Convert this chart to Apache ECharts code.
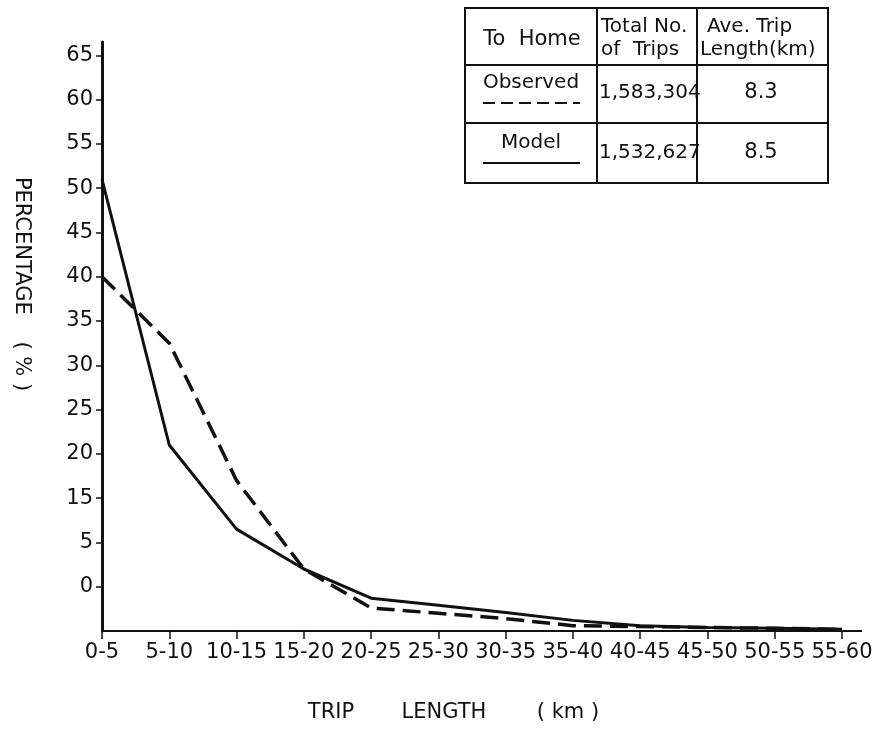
<!DOCTYPE html>
<html>
<head>
<meta charset="utf-8">
<title>Trip length distribution - To Home</title>
<script src="https://cdn.jsdelivr.net/npm/echarts@6/dist/echarts.min.js"></script>
<style>
  html, body { margin: 0; padding: 0; background: #fff; }
  #chart { width: 877px; height: 729px; }
</style>
</head>
<body>
<div id="chart"></div>
<script>
// trip length classes (km)
var categories = ['0-5', '5-10', '10-15', '15-20', '20-25', '25-30', '30-35', '35-40', '40-45', '45-50', '50-55', '55-60'];
// percentage of trips
var observed = [40, 32.5, 17, 7, 2.6, 2.0, 1.4, 0.6, 0.5, 0.4, 0.3, 0.2];
var model = [51, 21, 11.5, 7, 3.7, 2.9, 2.1, 1.2, 0.6, 0.4, 0.3, 0.2];
// y ticks as printed on the original (10 is missing, lower two read 5 and 0)
var yTickValues = [5, 10, 15, 20, 25, 30, 35, 40, 45, 50, 55, 60, 65];
var yTickLabels = ['0', '5', '15', '20', '25', '30', '35', '40', '45', '50', '55', '60', '65'];
// summary table
var tableNames = ['Observed', 'Model'];
var tableTrips = ['1,583,304', '1,532,627'];
var tableAvg = ['8.3', '8.5'];

var font = 'DejaVu Sans';
var ink = '#111';

var chart = echarts.init(document.getElementById('chart'));

// table drawn with graphic elements
var tx = 465, ty = 8, tw = 363, th = 175;
var colX = [597, 697];
var rowY = [65, 123];
var graphics = [
  { type: 'rect', shape: { x: tx, y: ty, width: tw, height: th }, style: { fill: '#fff', stroke: ink, lineWidth: 2 } },
  { type: 'line', shape: { x1: colX[0], y1: ty, x2: colX[0], y2: ty + th }, style: { stroke: ink, lineWidth: 2 } },
  { type: 'line', shape: { x1: colX[1], y1: ty, x2: colX[1], y2: ty + th }, style: { stroke: ink, lineWidth: 2 } },
  { type: 'line', shape: { x1: tx, y1: rowY[0], x2: tx + tw, y2: rowY[0] }, style: { stroke: ink, lineWidth: 2 } },
  { type: 'line', shape: { x1: tx, y1: rowY[1], x2: tx + tw, y2: rowY[1] }, style: { stroke: ink, lineWidth: 2 } },
  { type: 'text', x: 532, y: 40, style: { text: 'To  Home', font: '21px ' + font, fill: ink, align: 'center', verticalAlign: 'middle' } },
  { type: 'text', x: 601, y: 27, style: { text: 'Total No.', font: '20px ' + font, fill: ink, verticalAlign: 'middle' } },
  { type: 'text', x: 601, y: 50, style: { text: 'of  Trips', font: '20px ' + font, fill: ink, verticalAlign: 'middle' } },
  { type: 'text', x: 707, y: 27, style: { text: 'Ave. Trip', font: '20px ' + font, fill: ink, verticalAlign: 'middle' } },
  { type: 'text', x: 700, y: 50, style: { text: 'Length(km)', font: '20px ' + font, fill: ink, verticalAlign: 'middle' } },
  // axis names
  { type: 'text', x: 21, y: 284, rotation: -Math.PI / 2, style: { text: 'PERCENTAGE    ( % )', font: '21px ' + font, fill: ink, align: 'center', verticalAlign: 'middle' } },
  { type: 'text', x: 331, y: 713, style: { text: 'TRIP', font: '21px ' + font, fill: ink, align: 'center', verticalAlign: 'middle' } },
  { type: 'text', x: 444, y: 713, style: { text: 'LENGTH', font: '21px ' + font, fill: ink, align: 'center', verticalAlign: 'middle' } },
  { type: 'text', x: 568, y: 713, style: { text: '( km )', font: '21px ' + font, fill: ink, align: 'center', verticalAlign: 'middle' } },
  // x axis runs a little past the last class
  { type: 'line', shape: { x1: 840, y1: 631, x2: 862, y2: 631 }, style: { stroke: ink, lineWidth: 2 } }
];
var rowTextY = [88, 148];
var keyY = [103, 163];
for (var i = 0; i < tableNames.length; i++) {
  graphics.push({ type: 'text', x: 531, y: rowTextY[i] - 5, style: { text: tableNames[i], font: '20px ' + font, fill: ink, align: 'center', verticalAlign: 'middle' } });
  graphics.push({ type: 'text', x: 599, y: rowTextY[i] + 5, style: { text: tableTrips[i], font: '20px ' + font, fill: ink, verticalAlign: 'middle' } });
  graphics.push({ type: 'text', x: 761, y: rowTextY[i] + 5, style: { text: tableAvg[i], font: '21px ' + font, fill: ink, align: 'center', verticalAlign: 'middle' } });
  graphics.push({
    type: 'line', shape: { x1: 483, y1: keyY[i], x2: 580, y2: keyY[i] },
    style: { stroke: ink, lineWidth: 2, lineDash: i === 0 ? [12, 6] : null }
  });
}

var option = {
  animation: false,
  backgroundColor: '#fff',
  grid: { left: 102, right: 35, top: 42, bottom: 98 },
  xAxis: {
    type: 'category',
    data: categories,
    boundaryGap: false,
    axisLine: { lineStyle: { color: ink, width: 2 } },
    axisTick: { show: true, length: 8, interval: 0, lineStyle: { color: ink, width: 1.5 } },
    axisLabel: { interval: 0, margin: 11, color: ink, fontSize: 21, fontFamily: font },
    splitLine: { show: false }
  },
  yAxis: {
    type: 'value',
    min: 0,
    max: 66.5,
    axisLine: { show: true, lineStyle: { color: ink, width: 3 } },
    axisTick: { show: true, length: 6, customValues: yTickValues, lineStyle: { color: ink, width: 1.5 } },
    axisLabel: {
      customValues: yTickValues,
      margin: 9,
      color: ink,
      fontSize: 21,
      fontFamily: font,
      formatter: function (v) {
        var k = yTickValues.indexOf(v);
        return k >= 0 ? yTickLabels[k] : '';
      }
    },
    splitLine: { show: false }
  },
  series: [
    {
      name: 'Observed',
      type: 'line',
      data: observed,
      symbol: 'none',
      lineStyle: { color: ink, width: 3.5, type: [18, 8] }
    },
    {
      name: 'Model',
      type: 'line',
      data: model,
      symbol: 'none',
      lineStyle: { color: ink, width: 3, type: 'solid' }
    }
  ],
  graphic: graphics
};

chart.setOption(option);
</script>
</body>
</html>
